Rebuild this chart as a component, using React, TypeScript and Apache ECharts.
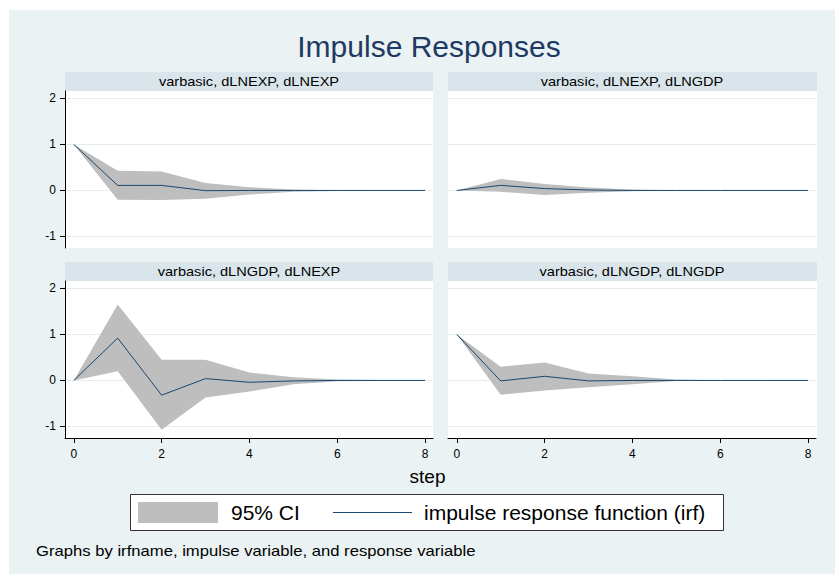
import React, { useEffect, useRef } from 'react';
import * as echarts from 'echarts';

const FONT = '"Liberation Sans", Arial, Helvetica, sans-serif';

const steps = [0, 1, 2, 3, 4, 5, 6, 7, 8];
const xTicks = [0, 2, 4, 6, 8];
const yTicks = [-1, 0, 1, 2];

const panelTitles = [
  'varbasic, dLNEXP, dLNEXP',
  'varbasic, dLNEXP, dLNGDP',
  'varbasic, dLNGDP, dLNEXP',
  'varbasic, dLNGDP, dLNGDP',
];

// impulse dLNEXP -> response dLNEXP
const irfExpExp = [1, 0.11, 0.11, -0.005, 0, 0, 0, 0, 0];
const upperExpExp = [1, 0.43, 0.41, 0.16, 0.07, 0.02, 0.005, 0, 0];
const lowerExpExp = [1, -0.2, -0.21, -0.18, -0.09, -0.03, -0.01, 0, 0];

// impulse dLNEXP -> response dLNGDP
const irfExpGdp = [0, 0.11, 0.04, 0.01, 0, 0, 0, 0, 0];
const upperExpGdp = [0, 0.25, 0.14, 0.065, 0.02, 0.005, 0, 0, 0];
const lowerExpGdp = [0, -0.03, -0.1, -0.05, -0.02, -0.005, 0, 0, 0];

// impulse dLNGDP -> response dLNEXP
const irfGdpExp = [0, 0.92, -0.32, 0.04, -0.04, -0.01, 0, 0, 0];
const upperGdpExp = [0, 1.65, 0.45, 0.45, 0.17, 0.07, 0.02, 0.01, 0];
const lowerGdpExp = [0, 0.2, -1.07, -0.37, -0.24, -0.08, -0.02, -0.01, 0];

// impulse dLNGDP -> response dLNGDP
const irfGdpGdp = [1, -0.01, 0.09, -0.01, 0, 0, 0, 0, 0];
const upperGdpGdp = [1, 0.3, 0.39, 0.15, 0.09, 0.02, 0.005, 0, 0];
const lowerGdpGdp = [1, -0.31, -0.22, -0.15, -0.08, -0.01, 0, 0, 0];

const legendLabels = ['95% CI', 'impulse response function (irf)'];
const titleText = 'Impulse Responses';
const xAxisTitle = 'step';
const noteText = 'Graphs by irfname, impulse variable, and response variable';

const Y_MIN = -1.25;
const Y_MAX = 2.16;
const X_MIN = -0.2;
const X_MAX = 8.18;

const PLOT_W = 368;
const PLOT_H = 157;

const panels = [
  { title: panelTitles[0], irf: irfExpExp, lo: lowerExpExp, hi: upperExpExp, left: 65, top: 91, showY: true, showX: false },
  { title: panelTitles[1], irf: irfExpGdp, lo: lowerExpGdp, hi: upperExpGdp, left: 448, top: 91, showY: false, showX: false },
  { title: panelTitles[2], irf: irfGdpExp, lo: lowerGdpExp, hi: upperGdpExp, left: 65, top: 281, showY: true, showX: true },
  { title: panelTitles[3], irf: irfGdpGdp, lo: lowerGdpGdp, hi: upperGdpGdp, left: 448, top: 281, showY: false, showX: true },
];

export default function App() {
  const ref = useRef<HTMLDivElement>(null);

  useEffect(() => {
    if (!ref.current) return;
    const chart = echarts.init(ref.current, undefined, { renderer: 'svg' });

    const axisColor = '#000000';
    const grids = panels.map((p) => ({
      left: p.left,
      top: p.top,
      width: PLOT_W,
      height: PLOT_H,
      containLabel: false,
      show: false,
    }));

    const xAxes = panels.map((p, i) => ({
      type: 'value',
      gridIndex: i,
      min: X_MIN,
      max: X_MAX,
      axisLine: { show: p.showX, onZero: false, lineStyle: { color: axisColor, width: 1 } },
      axisTick: { show: p.showX, length: 5, customValues: xTicks, lineStyle: { color: axisColor, width: 1 } },
      axisLabel: {
        show: p.showX,
        customValues: xTicks,
        margin: 10,
        fontSize: 12,
        color: '#000',
        fontFamily: FONT,
      },
      splitLine: { show: false },
    }));

    const yAxes = panels.map((p, i) => ({
      type: 'value',
      gridIndex: i,
      min: Y_MIN,
      max: Y_MAX,
      axisLine: { show: p.showY, onZero: false, lineStyle: { color: axisColor, width: 1 } },
      axisTick: { show: p.showY, length: 5, customValues: yTicks, lineStyle: { color: axisColor, width: 1 } },
      axisLabel: {
        show: p.showY,
        customValues: yTicks,
        margin: 9,
        fontSize: 12,
        color: '#000',
        fontFamily: FONT,
      },
      splitLine: { show: true, lineStyle: { color: '#E4EEF1', width: 1 } },
    }));

    const series: any[] = [];
    panels.forEach((p, i) => {
      series.push({
        type: 'custom',
        name: legendLabels[0],
        xAxisIndex: i,
        yAxisIndex: i,
        silent: true,
        z: 1,
        data: [[0, 0]],
        renderItem: (_params: any, api: any) => {
          const pts: number[][] = [];
          steps.forEach((s, k) => pts.push(api.coord([s, p.hi[k]])));
          for (let k = steps.length - 1; k >= 0; k--) pts.push(api.coord([steps[k], p.lo[k]]));
          return { type: 'polygon', shape: { points: pts }, style: { fill: '#BEBEBE', stroke: 'none' } };
        },
      });
      series.push({
        type: 'line',
        name: legendLabels[1],
        xAxisIndex: i,
        yAxisIndex: i,
        data: steps.map((s, k) => [s, p.irf[k]]),
        symbol: 'none',
        silent: true,
        z: 3,
        lineStyle: { color: '#1A476F', width: 1 },
      });
    });

    const graphics: any[] = [
      { type: 'rect', z: -100, silent: true, shape: { x: 9, y: 10, width: 826, height: 564 }, style: { fill: '#EAF2F3' } },
    ];
    panels.forEach((p) => {
      graphics.push({
        type: 'rect', z: -90, silent: true,
        shape: { x: p.left, y: p.top, width: PLOT_W + (p.showY ? 0 : 1), height: PLOT_H },
        style: { fill: '#FFFFFF' },
      });
      graphics.push({
        type: 'rect', z: -90, silent: true,
        shape: { x: p.left, y: p.top - 19, width: PLOT_W + (p.showY ? 0 : 1), height: 19 },
        style: { fill: '#D9E5EA' },
      });
      graphics.push({
        type: 'text', z: 10, silent: true,
        x: p.left + PLOT_W / 2, y: p.top - 9.5,
        scaleX: 1.12,
        style: { text: p.title, fontSize: 13, fontFamily: FONT, fill: '#000', textAlign: 'center', textVerticalAlign: 'middle' },
      });
    });

    graphics.push({
      type: 'text', z: 10, silent: true, x: 429, y: 46,
      style: { text: titleText, fontSize: 30, fontFamily: FONT, fill: '#1E3A62', textAlign: 'center', textVerticalAlign: 'middle' },
    });
    graphics.push({
      type: 'text', z: 10, silent: true, x: 427.5, y: 476.5,
      style: { text: xAxisTitle, fontSize: 19, fontFamily: FONT, fill: '#000', textAlign: 'center', textVerticalAlign: 'middle' },
    });
    // legend
    graphics.push({
      type: 'rect', z: 5, silent: true,
      shape: { x: 130.5, y: 494.5, width: 593, height: 36 },
      style: { fill: '#FFFFFF', stroke: '#333333', lineWidth: 1 },
    });
    graphics.push({
      type: 'rect', z: 6, silent: true,
      shape: { x: 138, y: 502, width: 80, height: 21 },
      style: { fill: '#BEBEBE' },
    });
    graphics.push({
      type: 'text', z: 6, silent: true, x: 231, y: 512.5,
      style: { text: legendLabels[0], fontSize: 21, fontFamily: FONT, fill: '#000', textAlign: 'left', textVerticalAlign: 'middle' },
    });
    graphics.push({
      type: 'line', z: 6, silent: true,
      shape: { x1: 333, y1: 512.5, x2: 412, y2: 512.5 },
      style: { stroke: '#1A476F', lineWidth: 1 },
    });
    graphics.push({
      type: 'text', z: 6, silent: true, x: 424, y: 512.5,
      style: { text: legendLabels[1], fontSize: 21, fontFamily: FONT, fill: '#000', textAlign: 'left', textVerticalAlign: 'middle' },
    });
    graphics.push({
      type: 'text', z: 10, silent: true, x: 36, y: 550.5,
      scaleX: 1.19,
      style: { text: noteText, fontSize: 14, fontFamily: FONT, fill: '#000', textAlign: 'left', textVerticalAlign: 'middle' },
    });

    chart.setOption({
      animation: false,
      backgroundColor: '#FFFFFF',
      grid: grids,
      xAxis: xAxes,
      yAxis: yAxes,
      series,
      graphic: { elements: graphics },
    });

    return () => chart.dispose();
  }, []);

  return <div ref={ref} style={{ position: 'fixed', left: 0, top: 0, width: 835, height: 574 }} />;
}
